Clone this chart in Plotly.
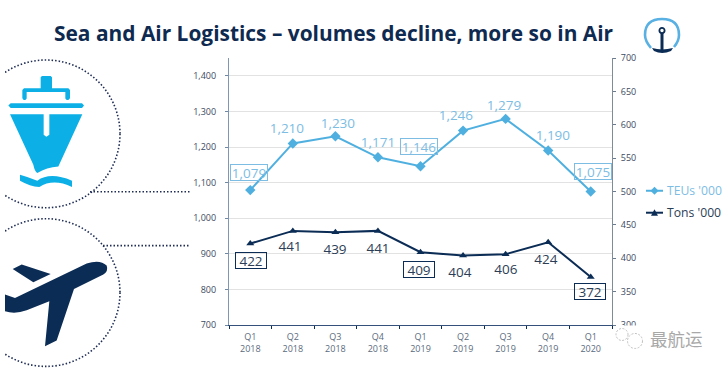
import re
import plotly.graph_objects as go

# ---- data ----
quarters = ["Q1<br>2018", "Q2<br>2018", "Q3<br>2018", "Q4<br>2018", "Q1<br>2019",
            "Q2<br>2019", "Q3<br>2019", "Q4<br>2019", "Q1<br>2020"]
teus = [1079, 1210, 1230, 1171, 1146, 1246, 1279, 1190, 1075]
tons = [422, 441, 439, 441, 409, 404, 406, 424, 372]
teu_boxed = [True, False, False, False, True, False, False, False, True]
ton_boxed = [True, False, False, False, True, False, False, False, True]
series_names = ["TEUs '000", "Tons '000"]

# ---- label offsets (pixels) ----
teu_dx = [-1, -6, 3, 0, -2, -7, -2, 5, 2]
teu_dy = [18, 16, 14, 16, 20, 16, 14, 16, 20]
ton_dx = [1, -3, 0, 0, -2, -3, 0, -2, -1]
ton_dy = [-17, -15, -16, -17, -17, -16, -14, -16, -15]

W, H = 727, 374
L, R, T, B = 229, 612, 58, 325.5
NAVY = "#0b2c55"
SKY = "#4fb0e0"
SKY_TEXT = "#7dbde3"
ICON_BLUE = "#0db0e6"
TICK = "#3d4a60"
FONT = "Open Sans"


def px(x, y):
    return (x - L) / (R - L), (B - y) / (B - T)


def path(d, ox=0, oy=0, k=1.0):
    """Turn a pixel-space SVG path into paper coordinates."""
    toks = re.findall(r"[MLCQZ]|-?\d+\.?\d*", d)
    out, nums = [], []
    for t in toks:
        if t in "MLCQZ":
            out.append(t)
        else:
            nums.append(float(t))
            if len(nums) == 2:
                a, b = px(ox + nums[0] * k, oy + nums[1] * k)
                out.append(f"{a:.5f},{b:.5f}")
                nums = []
    return " ".join(out)


def fill_shape(d, color, ox=0, oy=0, k=1.0):
    return dict(type="path", xref="paper", yref="paper", path=path(d, ox, oy, k),
                fillcolor=color, line=dict(width=0), layer="above")


def stroke_shape(d, color, width, ox=0, oy=0, k=1.0, dash=None):
    return dict(type="path", xref="paper", yref="paper", path=path(d, ox, oy, k),
                line=dict(color=color, width=width, dash=dash), layer="above")


def circle(cx, cy, r, color, width=1.5, dash=None, fill=None):
    x0, y0 = px(cx - r, cy + r)
    x1, y1 = px(cx + r, cy - r)
    return dict(type="circle", xref="paper", yref="paper", x0=x0, y0=y0, x1=x1, y1=y1,
                line=dict(color=color, width=width, dash=dash),
                fillcolor=fill or "rgba(0,0,0,0)", layer="above")


def rect(x0, y0, x1, y1, color):
    a, b = px(x0, y1)
    c, d = px(x1, y0)
    return dict(type="rect", xref="paper", yref="paper", x0=a, y0=b, x1=c, y1=d,
                fillcolor=color, line=dict(width=0), layer="above")


def text_note(cx, cy, text, size, color, family=FONT, anchor="center"):
    return dict(xref="paper", yref="paper", x=px(cx, 0)[0], y=px(0, cy)[1], text=text,
                showarrow=False, xanchor=anchor, yanchor="middle",
                font=dict(family=family, size=size, color=color))


fig = go.Figure()
fig.add_trace(go.Scatter(x=quarters, y=teus, name=series_names[0], mode="lines+markers",
                         line=dict(color=SKY, width=2),
                         marker=dict(symbol="diamond", size=8, color=SKY), yaxis="y"))
fig.add_trace(go.Scatter(x=quarters, y=tons, name=series_names[1], mode="lines+markers",
                         line=dict(color=NAVY, width=2),
                         marker=dict(symbol="triangle-up", size=7, color=NAVY), yaxis="y2"))

annotations = []
for q, v, dx, dy, box in zip(quarters, teus, teu_dx, teu_dy, teu_boxed):
    annotations.append(dict(x=q, y=v, xref="x", yref="y", text=f"{v:,}", showarrow=False,
                            xshift=dx, yshift=dy, font=dict(family=FONT, size=13.5, color=SKY_TEXT),
                            bordercolor=SKY_TEXT if box else "rgba(0,0,0,0)", borderwidth=1, borderpad=0,
                            width=36, height=15, align="center", valign="middle"))
for q, v, dx, dy, box in zip(quarters, tons, ton_dx, ton_dy, ton_boxed):
    annotations.append(dict(x=q, y=v, xref="x", yref="y2", text=f"{v}", showarrow=False,
                            xshift=dx, yshift=dy, font=dict(family=FONT, size=13.5, color="#2c3e55"),
                            bordercolor=NAVY if box else "rgba(0,0,0,0)", borderwidth=1, borderpad=0,
                            width=30, height=15, align="center", valign="middle"))
annotations.append(text_note(334, 33, "<b>Sea and Air Logistics – volumes decline, more so in Air</b>",
                             20.9, "#0f2a50"))
annotations.append(text_note(676, 339, "最航运", 17.5, "#a8a8a8", "Noto Sans CJK SC"))
annotations.append(text_note(665, 191, series_names[0], 12.2, SKY_TEXT, anchor="left"))
annotations.append(text_note(665, 213, series_names[1], 12.2, "#2c3e55", anchor="left"))

shapes = [
    # ship and plane rings, cut by the slide's left edge
    circle(46, 134, 74, "#1f2d55", 1.6, "1.5px,2px"),
    circle(46, 293, 74, "#1f2d55", 1.6, "1.5px,2px"),
    rect(0, 50, 5, 374, "#ffffff"),
    stroke_shape("M90,192 L190,192", "#1f2d55", 1.6, dash="1.5px,2px"),
    stroke_shape("M103,246 L190,246", "#1f2d55", 1.6, dash="1.5px,2px"),
    # ship
    fill_shape("M122,112 L126,108 L152,108 L156,112 L156,145 L205,145 L210,150 L210,175 L205,180 "
               "L200,180 L196,176 L196,156 L80,156 L80,176 L76,180 L71,180 L67,175 L67,150 L72,145 "
               "L122,145 Z", ICON_BLUE, 0, 40, 1 / 3),
    fill_shape("M32,190 L246,190 L252,197 L246,204 L32,204 L25,197 Z", ICON_BLUE, 0, 40, 1 / 3),
    fill_shape("M30,223 L131,223 L131,285 L139,291 L148,285 L148,223 L247,223 L175,380 "
               "Q140,382 112,400 Q104,395 100,375 Z", ICON_BLUE, 0, 40, 1 / 3),
    fill_shape("M60,405 Q85,412 112,423 Q150,395 216,423 L216,442 Q160,415 118,442 "
               "Q90,440 60,423 Z", ICON_BLUE, 0, 40, 1 / 3),
    # plane
    fill_shape("M15,765 L45,775 L260,672 Q300,658 320,678 Q326,695 310,705 L222,748 L170,903 "
               "L135,920 L148,785 L80,812 Q45,825 15,815 Z", NAVY, 0, 40, 1 / 3),
    fill_shape("M38,688 L65,675 L152,703 L100,728 Z", NAVY, 0, 40, 1 / 3),
    # logo
    stroke_shape("M651,48 Q645,41 645,35 Q645,19 662,19 Q679,19 679,35 Q679,41 674,47",
                 "#58b0e3", 2.6),
    circle(662, 30.5, 2.6, NAVY, 1.8),
    stroke_shape("M662,33 L662,50", NAVY, 3),
    fill_shape("M652,48 Q662,51 673,48 L671,51 Q662,55 654,51 Z", NAVY),
    # hides the lower part of the 300 label, as the watermark does
    rect(616, 326, 650, 345, "#ffffff"),
    # watermark bubbles
    circle(622, 335, 6, "#c0c0c0", 1, "2px,1.5px"),
    circle(635, 341.5, 7.5, "#c0c0c0", 1, "2px,1.5px"),
    # legend keys
    stroke_shape("M646,191 L663,191", SKY, 2),
    fill_shape("M654.5,187 L658.5,191 L654.5,195 L650.5,191 Z", SKY),
    stroke_shape("M646,213 L663,213", NAVY, 2),
    fill_shape("M654.5,209.5 L658,216 L651,216 Z", NAVY),
]

fig.update_layout(
    width=W, height=H, autosize=False,
    margin=dict(l=L, r=W - R, t=T, b=H - B, pad=0),
    paper_bgcolor="white", plot_bgcolor="white",
    font=dict(family=FONT, size=9, color=TICK),
    showlegend=False,
    xaxis=dict(type="category", categoryorder="array", categoryarray=quarters,
               range=[-0.5, 8.5], tickson="boundaries", ticks="outside", ticklen=3,
               tickcolor=NAVY, showline=True, linecolor="#35507a", linewidth=1,
               showgrid=False, zeroline=False, ticklabelstandoff=3,
               tickfont=dict(family=FONT, size=9, color="#5b6b7d")),
    yaxis=dict(range=[700, 1450], tick0=700, dtick=100, tickformat=",d", ticks="outside",
               ticklen=3, tickcolor="#6f88a5", showline=True, linecolor="#7f97b5", linewidth=1.2,
               gridcolor="#e2e2e2", gridwidth=1, zeroline=False, ticklabelstandoff=7,
               tickfont=dict(family=FONT, size=9, color=TICK)),
    yaxis2=dict(overlaying="y", side="right", range=[300, 700], tick0=300, dtick=50,
                ticks="outside", ticklen=3, tickcolor="#6b7b8d", showline=True,
                linecolor="#7f8b99", linewidth=1, showgrid=False, zeroline=False,
                ticklabelstandoff=3, tickfont=dict(family=FONT, size=9, color=TICK)),
    annotations=annotations,
    shapes=shapes,
)

fig.write_html("out.html", config={"displayModeBar": False},
               post_script="document.body.style.margin='0';")
